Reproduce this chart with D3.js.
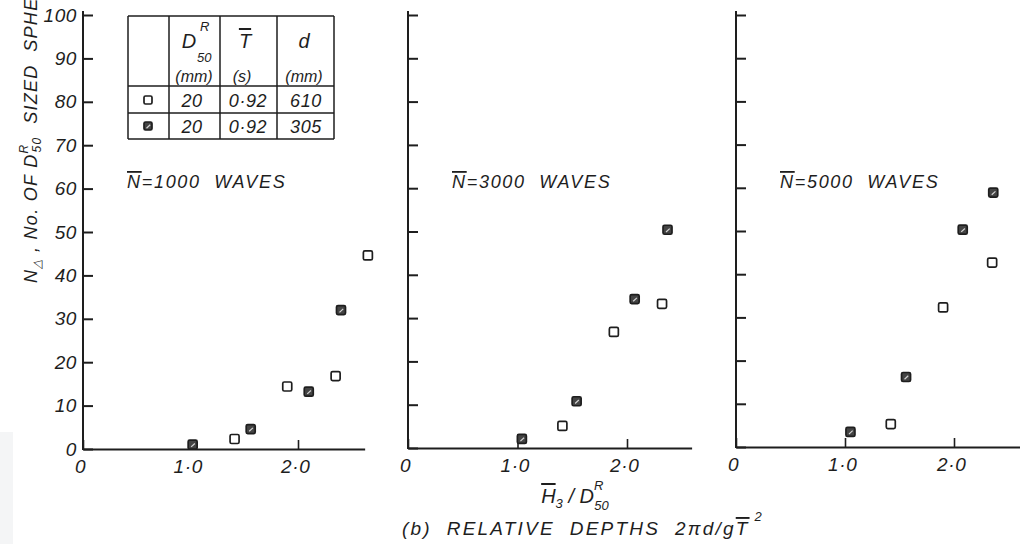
<!DOCTYPE html>
<html>
<head>
<meta charset="utf-8">
<script src="https://cdn.jsdelivr.net/npm/d3@7"></script>
<style>
  html, body { margin: 0; padding: 0; background: #fff; }
  svg { display: block; }
  text { font-family: "Liberation Sans", Arial, sans-serif; font-style: italic; fill: #1e1e1e; white-space: pre; }
  .ov { text-decoration: overline; }
</style>
</head>
<body>
<svg id="chart" width="1020" height="544"></svg>
<script>
// Number of displaced spheres against relative wave height, one panel per test duration
const waveCounts = [1000, 3000, 5000];
const yTicks = [0, 10, 20, 30, 40, 50, 60, 70, 80, 90, 100];
const xTicks = [0, 1, 2];
const xTickLabels = ["0", "1·0", "2·0"];

// d = 610 mm (open squares)
const openH = [[1.41, 1.90, 2.35, 2.65], [1.41, 1.88, 2.32], [1.42, 1.90, 2.35]];
const openN = [[2.3, 14.4, 16.8, 44.6], [5.1, 26.8, 33.3], [5.3, 32.3, 42.7]];
// d = 305 mm (shaded squares)
const shadedH = [[1.02, 1.56, 2.10, 2.40], [1.04, 1.54, 2.07, 2.37], [1.05, 1.56, 2.08, 2.36]];
const shadedN = [[1.0, 4.6, 13.2, 32.0], [2.1, 10.8, 34.4, 50.4], [3.5, 16.2, 50.3, 58.9]];

// key table rows
const legendSymbols = ["open", "shaded"];
const legendD50 = [20, 20];
const legendT = [0.92, 0.92];
const legendDepth = [610, 305];

const INK = "#1e1e1e";
const svg = d3.select("#chart");

// faint scanner shading at the lower-left edge
svg.append("rect").attr("x", 0).attr("y", 432).attr("width", 13).attr("height", 112).attr("fill", "#f4f5f6");

// panel frames (pixel layout)
const frames = [
  { x0: 83,  unit: 107.5, xEnd: 2.62, y0: 449, yTop: 15, labels: true },
  { x0: 408, unit: 109.5, xEnd: 2.59, y0: 448, yTop: 15, labels: false },
  { x0: 736, unit: 109,   xEnd: 2.75, y0: 447, yTop: 15, labels: false }
];

const decimal = v => String(v).replace(".", "·");

function marker(g, cx, cy, kind, s) {
  const h = s / 2;
  g.append("rect")
    .attr("x", cx - h).attr("y", cy - h).attr("width", s).attr("height", s)
    .attr("rx", 1.5)
    .attr("fill", kind === "open" ? "#fff" : "#444")
    .attr("stroke", INK).attr("stroke-width", 1.7);
  if (kind !== "open") {
    g.append("path")
      .attr("d", `M${cx - 1.5},${cy + 2.2} L${cx + 2.2},${cy - 1.2}`)
      .attr("stroke", "#d4d4d4").attr("stroke-width", 1.2).attr("fill", "none");
  }
}

frames.forEach((f, i) => {
  const x = d3.scaleLinear().domain([0, f.xEnd]).range([f.x0, f.x0 + f.unit * f.xEnd]);
  const y = d3.scaleLinear().domain([0, 100]).range([f.y0, f.yTop]);
  const g = svg.append("g");

  // vertical axis
  const ya = g.append("g").attr("transform", `translate(${f.x0},0)`)
    .call(d3.axisLeft(y).tickValues(yTicks).tickSizeInner(-10).tickSizeOuter(0).tickPadding(6)
      .tickFormat(f.labels ? d3.format("d") : () => ""));
  ya.attr("font-family", null).attr("font-size", null);
  ya.select(".domain").remove();
  ya.selectAll(".tick line").attr("stroke", INK).attr("stroke-width", 2);
  ya.selectAll(".tick text").attr("font-size", 19).attr("letter-spacing", 0.6).attr("fill", INK);
  g.append("line").attr("x1", f.x0).attr("x2", f.x0)
    .attr("y1", y(0) + 1).attr("y2", y(100) - 4)
    .attr("stroke", INK).attr("stroke-width", 2);

  // horizontal axis
  const xa = g.append("g").attr("transform", `translate(0,${f.y0})`)
    .call(d3.axisBottom(x).tickValues(xTicks).tickSizeInner(-9).tickSizeOuter(0).tickPadding(11)
      .tickFormat((d, k) => xTickLabels[k]));
  xa.attr("font-family", null).attr("font-size", null);
  xa.select(".domain").attr("stroke", INK).attr("stroke-width", 2);
  xa.selectAll(".tick line").attr("stroke", INK).attr("stroke-width", 1.6);
  xa.selectAll(".tick text").attr("font-size", 19).attr("letter-spacing", 0.6).attr("fill", INK).attr("dx", "-0.15em");

  // panel heading
  const t = g.append("text").attr("x", f.x0 + 44).attr("y", 188)
    .attr("font-size", 18).attr("letter-spacing", 1.7);
  t.append("tspan").attr("class", "ov").text("N");
  t.append("tspan").text(`=${waveCounts[i]}  WAVES`);

  // points
  const pts = g.append("g");
  openH[i].forEach((h, k) => marker(pts, x(h), y(openN[i][k]), "open", 9));
  shadedH[i].forEach((h, k) => marker(pts, x(h), y(shadedN[i][k]), "shaded", 9));
});

// vertical axis title
const yt = svg.append("text").attr("transform", "translate(37,283) rotate(-90)")
  .attr("font-size", 18).attr("letter-spacing", 1.3);
yt.append("tspan").text("N");
yt.append("tspan").attr("font-size", 12).attr("dy", 4).text("△");
yt.append("tspan").attr("dy", -4).text(" , No. OF ");
yt.append("tspan").text("D");
yt.append("tspan").attr("font-size", 12).attr("dy", -9).text("R");
yt.append("tspan").attr("font-size", 12).attr("dx", -9).attr("dy", 13).text("50");
yt.append("tspan").attr("dy", -4).text("  SIZED  SPHERES");

// key table
const cols = [128, 169, 220, 277, 334];
const rows = [16, 86, 113, 139];
const tg = svg.append("g");
cols.forEach(cx => tg.append("line").attr("x1", cx).attr("x2", cx).attr("y1", rows[0]).attr("y2", rows[3])
  .attr("stroke", INK).attr("stroke-width", 1.5));
rows.forEach(ry => tg.append("line").attr("x1", cols[0]).attr("x2", cols[4]).attr("y1", ry).attr("y2", ry)
  .attr("stroke", INK).attr("stroke-width", 1.5));

tg.append("text").attr("x", 189).attr("y", 48).attr("font-size", 20).attr("text-anchor", "middle").text("D");
tg.append("text").attr("x", 200).attr("y", 31).attr("font-size", 13).text("R");
tg.append("text").attr("x", 197).attr("y", 62).attr("font-size", 13).text("50");
tg.append("text").attr("x", 194).attr("y", 82).attr("font-size", 16).attr("text-anchor", "middle").text("(mm)");
tg.append("text").attr("x", 245).attr("y", 48).attr("font-size", 20).attr("text-anchor", "middle")
  .append("tspan").attr("class", "ov").text("T");
tg.append("text").attr("x", 242).attr("y", 82).attr("font-size", 16).attr("text-anchor", "middle").text("(s)");
tg.append("text").attr("x", 304).attr("y", 48).attr("font-size", 20).attr("text-anchor", "middle").text("d");
tg.append("text").attr("x", 304).attr("y", 82).attr("font-size", 16).attr("text-anchor", "middle").text("(mm)");

const rowBase = [107, 133];
legendSymbols.forEach((s, k) => {
  marker(tg, 148, rowBase[k] - 7, s, 8);
  tg.append("text").attr("x", 192).attr("y", rowBase[k]).attr("font-size", 18).attr("letter-spacing", 0.6).attr("text-anchor", "middle").text(legendD50[k]);
  tg.append("text").attr("x", 248).attr("y", rowBase[k]).attr("font-size", 18).attr("letter-spacing", 0.6).attr("text-anchor", "middle").text(decimal(legendT[k]));
  tg.append("text").attr("x", 306).attr("y", rowBase[k]).attr("font-size", 18).attr("letter-spacing", 0.6).attr("text-anchor", "middle").text(legendDepth[k]);
});

// horizontal axis titles
const xt = svg.append("text").attr("x", 575).attr("y", 503).attr("font-size", 20).attr("text-anchor", "middle");
xt.append("tspan").attr("class", "ov").text("H");
xt.append("tspan").attr("font-size", 13).attr("dy", 5).text("3");
xt.append("tspan").attr("dy", -5).text(" / D");
xt.append("tspan").attr("font-size", 13).attr("dy", -13).text("R");
xt.append("tspan").attr("font-size", 13).attr("dx", -9).attr("dy", 20).text("50");

const bt = svg.append("text").attr("x", 402).attr("y", 535).attr("font-size", 19).attr("letter-spacing", 2.2);
bt.append("tspan").text("(b)  RELATIVE  DEPTHS  2πd/g");
bt.append("tspan").attr("class", "ov").text("T");
bt.append("tspan").attr("font-size", 13).attr("dx", 5).attr("dy", -14).text("2");
</script>
</body>
</html>
